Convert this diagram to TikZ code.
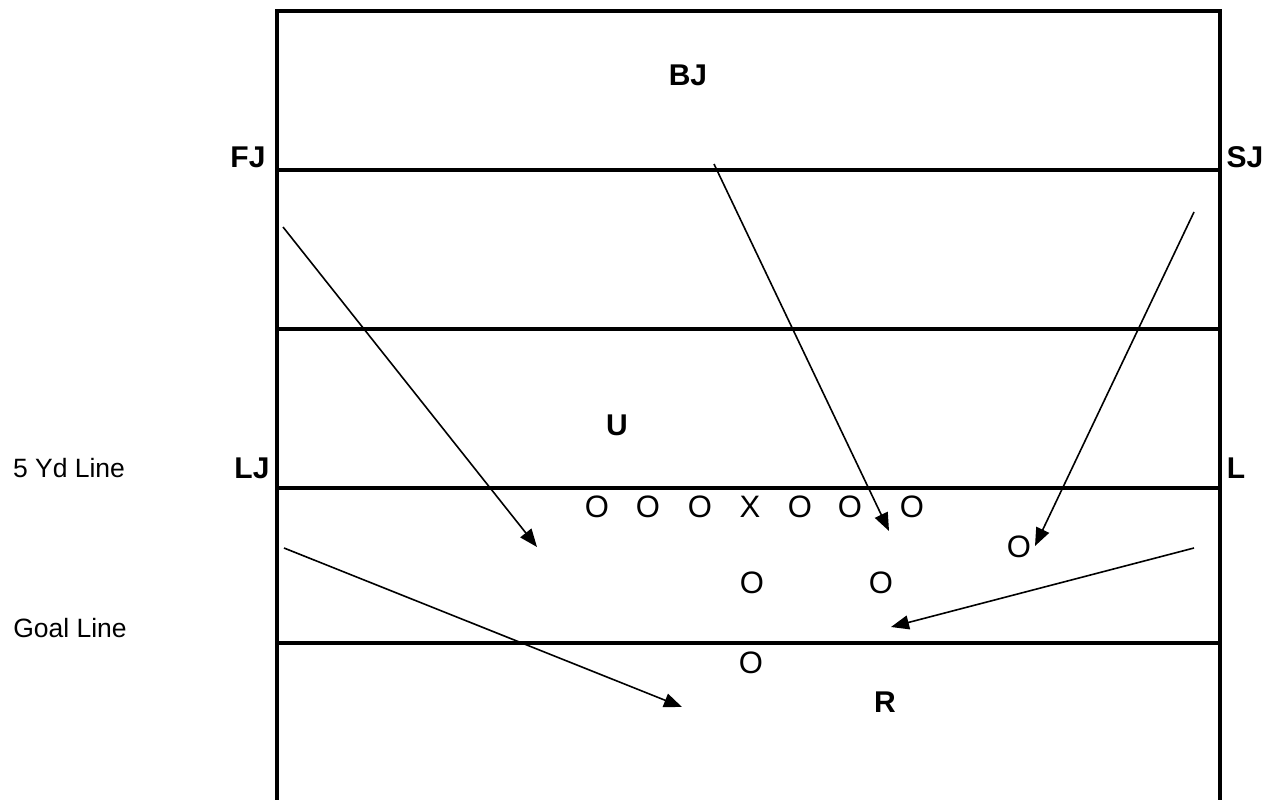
\documentclass[tikz,border=0pt]{standalone}
\usepackage{fontspec}
\setmainfont{Liberation Sans}
\usetikzlibrary{arrows.meta}
\tikzset{
  field/.style={line width=3.2pt},
  lbl/.style={inner sep=0pt, font=\fontsize{30}{33}\selectfont\bfseries},
  side/.style={inner sep=0pt, font=\fontsize{26.5}{30}\selectfont},
  player/.style={inner sep=0pt, font=\fontsize{31}{35}\selectfont},
  move/.style={line width=1.6pt, -{Triangle[length=18pt,width=14pt]}}
}
\begin{document}
\begin{tikzpicture}[x=1pt,y=-1pt]
\useasboundingbox (0,0) rectangle (1264,800);
% field
\draw[field] (277,801) -- (277,11) -- (1220,11) -- (1220,801);
\draw[field] (277,170) -- (1220,170);
\draw[field] (277,329) -- (1220,329);
\draw[field] (277,488) -- (1220,488);
\draw[field] (277,643) -- (1220,643);
% labels
\node[lbl] (bj) at (688,75) {BJ};
\node[lbl] (fj) at (248,157) {FJ};
\node[lbl] (sj) at (1245,157) {SJ};
\node[lbl] (u) at (617,425) {U};
\node[lbl] (lj) at (252,468) {LJ};
\node[lbl] (l) at (1236,468) {L};
\node[lbl] (r) at (885,702) {R};
\node[side] (yd5) at (69,468) {5 Yd Line};
\node[side] (goal) at (70,628) {Goal Line};
% players
\node[player] (o1) at (597,507) {O};
\node[player] (o2) at (648,507) {O};
\node[player] (o3) at (700,507) {O};
\node[player] (xc) at (750,507) {X};
\node[player] (o4) at (800,507) {O};
\node[player] (o5) at (850,507) {O};
\node[player] (o6) at (912,507) {O};
\node[player] (o7) at (1019,547) {O};
\node[player] (o8) at (752,583) {O};
\node[player] (o9) at (881,583) {O};
\node[player] (o10) at (751,663) {O};
% movement
\coordinate (a1s) at (283,227);  \coordinate (a1e) at (537,547);
\coordinate (a2s) at (714,164);  \coordinate (a2e) at (889,531);
\coordinate (a3s) at (1194,212); \coordinate (a3e) at (1035,546);
\coordinate (a4s) at (284,548);  \coordinate (a4e) at (682,707);
\coordinate (a5s) at (1194,548); \coordinate (a5e) at (891,627);
\draw[move] (a1s) -- (a1e);
\draw[move] (a2s) -- (a2e);
\draw[move] (a3s) -- (a3e);
\draw[move] (a4s) -- (a4e);
\draw[move] (a5s) -- (a5e);
\end{tikzpicture}
\end{document}
